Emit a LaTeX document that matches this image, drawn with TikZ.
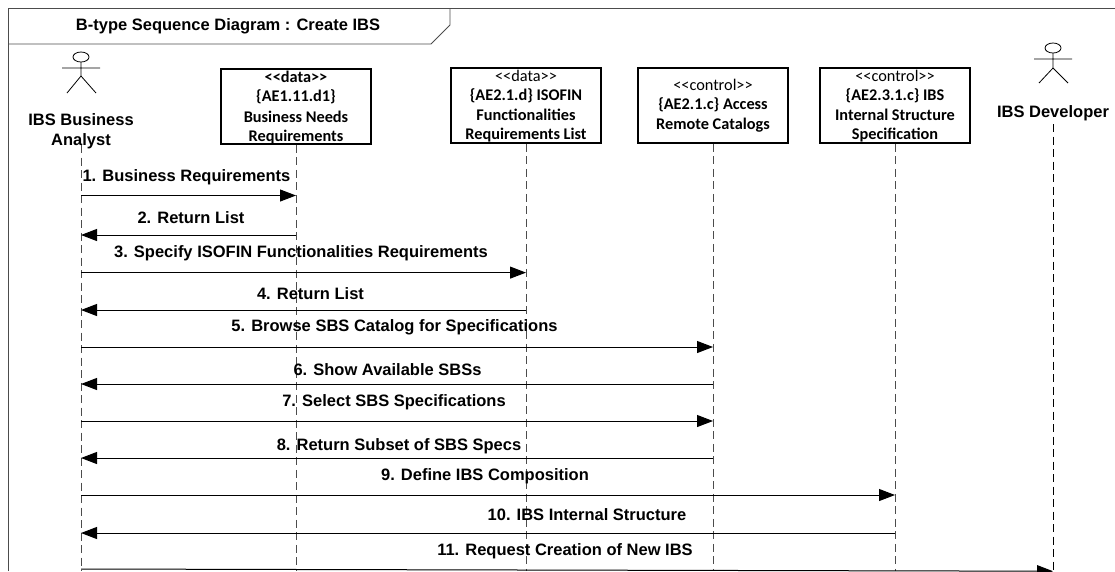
\documentclass[tikz,border=0pt]{standalone}
\usepackage{fontspec}
\setmainfont{Liberation Sans}
\newfontfamily\boxfont{Carlito}
\usetikzlibrary{arrows.meta}
\definecolor{framegray}{gray}{0.3}
\definecolor{lifegray}{gray}{0.3}
\tikzset{
  x=1pt,y=-1pt,
  objbox/.style={draw=black,line width=1.8pt,fill=white,inner sep=0pt},
  boxline/.style={font=\boxfont\fontsize{16.3}{18}\selectfont,inner sep=0pt,anchor=center},
  boxbold/.style={boxline,font=\boxfont\bfseries\fontsize{16.3}{18}\selectfont},
  actorname/.style={font=\bfseries\fontsize{16.5}{20}\selectfont,inner sep=0pt,align=center},
  msglabel/.style={font=\bfseries\fontsize{16.5}{18}\selectfont,inner sep=0pt,fill=none},
  lifeline/.style={draw=lifegray,line width=0.9pt,dash pattern=on 8pt off 4.5pt},
  msg/.style={draw=black,line width=1pt,-{Triangle[length=16pt,width=12pt]}},
  actorline/.style={draw=black,line width=0.8pt}
}
\begin{document}
\begin{tikzpicture}
\useasboundingbox (0,0) rectangle (1115,571);
% frame
\draw[framegray,line width=0.9pt] (8,571) -- (8,8) -- (1115,8);
\draw[framegray,line width=0.9pt] (450,8) -- (450,25) -- (431,44) -- (8,44);
\node[font=\bfseries\fontsize{16.5}{18}\selectfont,inner sep=0pt] (title) at (228,26) {B-type Sequence Diagram : Create IBS};
% objects
\node[objbox,minimum width=150pt,minimum height=75pt] (b1) at (296,106.5) {};
\node[objbox,minimum width=150pt,minimum height=75pt] (b2) at (526,105.5) {};
\node[objbox,minimum width=150pt,minimum height=75pt] (b3) at (713,105.5) {};
\node[objbox,minimum width=150pt,minimum height=75pt] (b4) at (895,105.5) {};
\node[boxbold] (b1a) at (296,77) {<<data>>};
\node[boxbold] (b1b) at (296,97) {\{AE1.11.d1\}};
\node[boxbold] (b1c) at (296,117) {Business Needs};
\node[boxbold] (b1d) at (296,137) {Requirements};
\node[boxline] (b2a) at (526,76) {<<data>>};
\node[boxbold] (b2b) at (526,96) {\{AE2.1.d\} ISOFIN};
\node[boxbold] (b2c) at (526,115) {Functionalities};
\node[boxbold] (b2d) at (526,135) {Requirements List};
\node[boxline] (b3a) at (713,85) {<<control>>};
\node[boxbold] (b3b) at (713,105) {\{AE2.1.c\} Access};
\node[boxbold] (b3c) at (713,125) {Remote Catalogs};
\node[boxline] (b4a) at (895,76) {<<control>>};
\node[boxbold] (b4b) at (895,96) {\{AE2.3.1.c\} IBS};
\node[boxbold] (b4c) at (895,115) {Internal Structure};
\node[boxbold] (b4d) at (895,135) {Specification};
% actors
\draw[actorline] (81,57) ellipse (8pt and 5pt);
\draw[actorline] (81,62) -- (81,76) (62,68) -- (100,68) (67,93) -- (81,76) -- (96,93);
\draw[actorline] (1053,48) ellipse (8pt and 5pt);
\draw[actorline] (1053,53) -- (1053,68) (1034,59) -- (1072,59) (1039,83) -- (1053,68) -- (1068,83);
\node[actorname] (a1) at (81,131) {IBS Business\\Analyst};
\node[actorname] (a2) at (1053,113) {IBS Developer};
% lifeline ends
\coordinate (t1) at (81,145);
\coordinate (t6) at (1053,124);
\coordinate (e1) at (81,571);
\coordinate (e2) at (296,571);
\coordinate (e3) at (526,571);
\coordinate (e4) at (713,571);
\coordinate (e5) at (895,571);
\coordinate (e6) at (1053,571);
\draw[lifeline] (t1) -- (e1);
\draw[lifeline] (b1.south) -- (e2);
\draw[lifeline] (b2.south) -- (e3);
\draw[lifeline] (b3.south) -- (e4);
\draw[lifeline] (b4.south) -- (e5);
\draw[lifeline,draw=black] (t6) -- (e6);
% message levels
\foreach \n/\y in {1/195.5,2/235,3/272.6,4/310,5/347,6/384,7/421,8/458,9/495,10/533}{\coordinate (m\n) at (0,\y);}
\coordinate (m11a) at (81,569);
\coordinate (m11b) at (1053,571.2);
\draw[msg] (e1 |- m1) -- (e2 |- m1);
\draw[msg] (e2 |- m2) -- (e1 |- m2);
\draw[msg] (e1 |- m3) -- (e3 |- m3);
\draw[msg] (e3 |- m4) -- (e1 |- m4);
\draw[msg] (e1 |- m5) -- (e4 |- m5);
\draw[msg] (e4 |- m6) -- (e1 |- m6);
\draw[msg] (e1 |- m7) -- (e4 |- m7);
\draw[msg] (e4 |- m8) -- (e1 |- m8);
\draw[msg] (e1 |- m9) -- (e5 |- m9);
\draw[msg] (e5 |- m10) -- (e1 |- m10);
\draw[msg] (m11a) -- (m11b);
% message labels
\node[msglabel] (l1) at (186.5,177) {1. Business Requirements};
\node[msglabel] (l2) at (191,218) {2. Return List};
\node[msglabel] (l3) at (301,253) {3. Specify ISOFIN Functionalities Requirements};
\node[msglabel] (l4) at (310.5,294) {4. Return List};
\node[msglabel] (l5) at (394.5,327) {5. Browse SBS Catalog for Specifications};
\node[msglabel] (l6) at (387.5,370) {6. Show Available SBSs};
\node[msglabel] (l7) at (394,402) {7. Select SBS Specifications};
\node[msglabel] (l8) at (399,446) {8. Return Subset of SBS Specs};
\node[msglabel] (l9) at (485,476) {9. Define IBS Composition};
\node[msglabel] (l10) at (587,515) {10. IBS Internal Structure};
\node[msglabel] (l11) at (565,551) {11. Request Creation of New IBS};
\end{tikzpicture}
\end{document}
